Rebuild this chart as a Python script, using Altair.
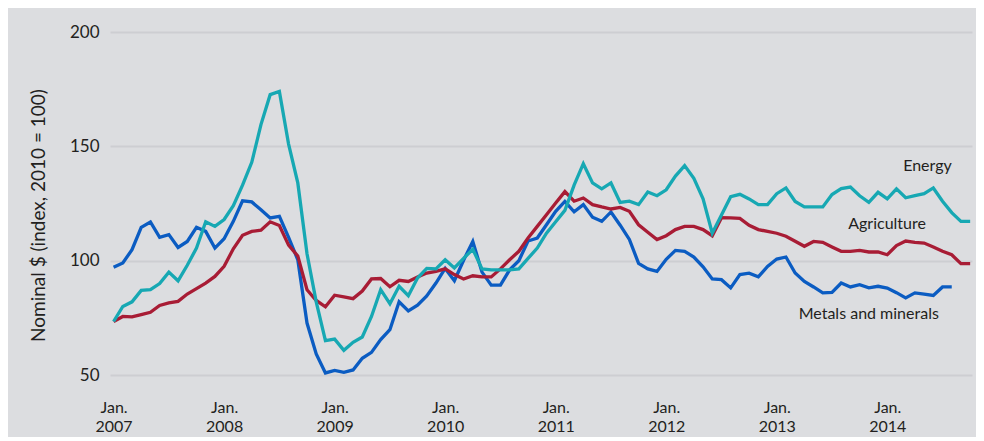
import altair as alt
import pandas as pd

# Monthly index values, Jan. 2007 onward (2010 = 100)
energy = [73.4, 80, 82, 87, 87.3, 90, 95, 91.2, 98, 105.5, 117, 115,
          118, 124, 133, 143, 159.5, 172.6, 174, 151, 134, 103, 82, 65,
          65.7, 60.8, 64.3, 66.6, 75.6, 87.3, 81.2, 88.8, 84.7, 92.4, 96.6, 96.4,
          100.4, 96.8, 101, 105, 96.4, 96, 96, 96, 96.4, 101, 105.5, 112,
          117, 122, 133, 142.4, 134, 131.4, 134, 125.5, 126, 124.5, 130, 128.4,
          131, 137, 141.6, 136, 127, 112, 120, 128, 129, 127, 124.5, 124.5,
          129.3, 131.8, 125.9, 123.5, 123.5, 123.5, 128.9, 131.5, 132.2, 128.4, 125.5, 129.9,
          127, 131.4, 127.5, 128.4, 129.3, 131.8, 126, 121, 117.2, 117.2]
agriculture = [73.4, 75.6, 75.4, 76.4, 77.4, 80.4, 81.5, 82.2, 85.4, 87.8, 90.2, 93.1,
               97.5, 105.2, 111.1, 112.8, 113.3, 117, 115.4, 106.8, 102, 87.3, 82.6, 79.8,
               84.9, 84.2, 83.4, 86.7, 92, 92.2, 88.6, 91.4, 90.9, 92.9, 94.6, 95.3,
               96.4, 93.9, 92, 93.4, 92.9, 92.9, 96.4, 100.4, 104.1, 109.9, 115, 120.1,
               125.2, 130.2, 126, 127.4, 124.5, 123.5, 122.6, 123.3, 121.6, 115.7, 112.4, 109.2,
               110.9, 113.6, 115, 115, 113.6, 110.9, 118.8, 118.7, 118.5, 115.5, 113.6, 112.8,
               112, 110.7, 108.5, 106.3, 108.4, 108, 106, 104.1, 104.1, 104.5, 103.8, 103.8,
               102.6, 106.6, 108.6, 108, 107.7, 106, 104.1, 102.6, 98.7, 98.7]
metals = [97.1, 99, 104.8, 114.6, 116.9, 110.2, 111.4, 105.8, 108.4, 114.6, 112.8, 105.5,
          109.6, 117.2, 126.2, 125.7, 122.3, 118.7, 119.4, 110.2, 100.4, 72.7, 59.2, 50.9,
          52, 51.2, 52.2, 57.3, 59.9, 65.5, 69.8, 82, 78, 80.5, 84.6, 90.2,
          96.6, 91.2, 100.2, 108.4, 95, 89.3, 89.3, 96, 100, 108.6, 109.9, 115.7,
          121.6, 125.9, 121.4, 124.5, 119, 117.2, 121.3, 115.5, 109.3, 98.8, 96.4, 95.3,
          100.6, 104.5, 104.1, 101.6, 97.3, 92, 91.7, 88.1, 93.9, 94.5, 92.9, 97.5,
          100.7, 101.6, 94.6, 90.9, 88.5, 85.9, 86.1, 90.2, 88.5, 89.5, 88.1, 88.8,
          88, 86, 83.7, 85.9, 85.4, 84.8, 88.5, 88.5]

series_names = ["Metals and minerals", "Agriculture", "Energy"]
series_values = [metals, agriculture, energy]
series_colors = ["#0b5cc2", "#a81c35", "#17a8b3"]

tick_months = [0, 12, 24, 36, 48, 60, 72, 84]
y_ticks = [50, 100, 150, 200]

# Label annotations (month index of right edge, value)
label_text = ["Energy", "Agriculture", "Metals and minerals"]
label_month = [91.0, 88.2, 89.6]
label_value = [141.3, 116.2, 76.8]

rows = []
for name, vals in zip(series_names, series_values):
    for i, v in enumerate(vals):
        rows.append({"m": i, "value": v, "series": name})
df = pd.DataFrame(rows)
labels_df = pd.DataFrame({"text": label_text, "m": label_month, "value": label_value})

xscale = alt.Scale(domain=[-0.39, 93.2], nice=False, zero=False)
yscale = alt.Scale(domain=[50, 200], nice=False, zero=False)

xaxis = alt.Axis(values=tick_months, grid=False, ticks=False, domain=False,
                 labelExpr="['Jan.', '' + (2007 + datum.value / 12)]",
                 labelPadding=24, labelFontSize=16, labelFont="Lato",
                 labelColor="#231f20", labelLineHeight=19, labelBaseline="top",
                 title=None)
yaxis = alt.Axis(values=y_ticks, grid=True, gridColor="#cdced2", gridWidth=2,
                 ticks=False, domain=False, labelPadding=11, labelFontSize=17,
                 labelFont="Lato", labelColor="#231f20",
                 title="Nominal $ (index, 2010 = 100)", titleFont="Lato",
                 titleFontSize=19, titleFontWeight="normal", titleColor="#231f20",
                 titleX=-62, titleY=183, titleAlign="center", titleBaseline="bottom",
                 titleAngle=270)

x_enc = alt.X("m:Q", scale=xscale, axis=xaxis)
y_enc = alt.Y("value:Q", scale=yscale, axis=yaxis)

layers = []
for name, color in zip(series_names, series_colors):
    layers.append(
        alt.Chart(df).transform_filter(alt.datum.series == name)
        .mark_line(color=color, strokeWidth=3.3, strokeJoin="miter")
        .encode(x=x_enc, y=y_enc)
    )

text = alt.Chart(labels_df).mark_text(align="right", baseline="middle",
                                      font="Lato", fontSize=16, color="#231f20").encode(
    x=x_enc, y=y_enc, text="text:N")

chart = alt.layer(*layers, text).properties(
    width=862, height=343,
    background="#dcdde0",
    padding={"left": 102, "top": 24, "right": 4, "bottom": 62},
    autosize=alt.AutoSizeParams(type="none"),
).configure_view(stroke=None)

chart.save("out.html", embed_options={"renderer": "svg", "actions": False})
